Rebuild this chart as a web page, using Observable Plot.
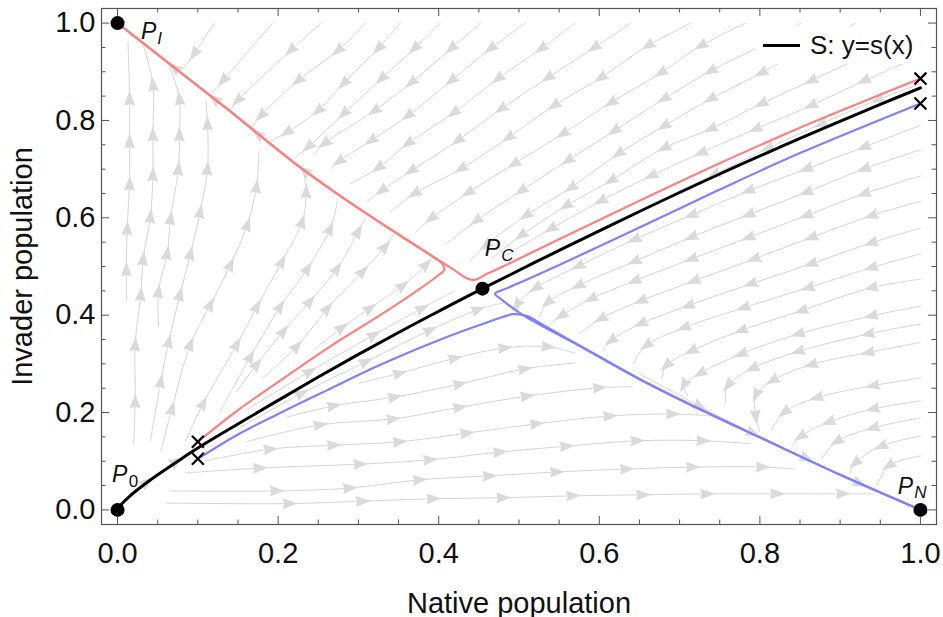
<!DOCTYPE html>
<html><head><meta charset="utf-8">
<script src="https://cdn.jsdelivr.net/npm/d3@7"></script>
<script src="https://cdn.jsdelivr.net/npm/@observablehq/plot@0.6"></script>
<style>
body{margin:0;background:#fff;}
#wrap{position:relative;width:943px;height:617px;font-family:"Liberation Sans",Arial,sans-serif;}
#legend{position:absolute;left:755px;top:26px;height:38px;background:#fff;padding:0 8px 0 8px;display:flex;align-items:center;gap:10px;font-size:26px;color:#111;}
#legend .sw{display:inline-block;width:37px;height:3px;background:#000;}
</style></head><body><div id="wrap"></div>
<script>
// ---------------- data ----------------
const majorTicks = [0, 0.2, 0.4, 0.6, 0.8, 1.0];
const minorTicks = [0.05,0.1,0.15,0.25,0.3,0.35,0.45,0.5,0.55,0.65,0.7,0.75,0.85,0.9,0.95];

// equilibria
const eqNames = ["0", "I", "C", "N"];
const eqX = [0, 0, 0.4545, 1];
const eqY = [0, 1, 0.4545, 0];

// initial conditions (crosses)
const crossX = [0.1, 0.1, 1, 1];
const crossY = [0.14, 0.105, 0.886, 0.835];

// separatrix S: y = s(x)
const sepCurve = [[0,0],[0.005,0.012],[0.015,0.028],[0.03,0.048],[0.05,0.072],[0.075,0.1],[0.1,0.127],[0.15,0.1765],[0.2,0.225],[0.25,0.273],[0.3,0.3195],[0.35,0.3645],[0.4,0.408],[0.4545,0.4545],[0.55,0.533],[0.65,0.613],[0.75,0.69],[0.85,0.763],[0.95,0.833],[1,0.867]];
// red trajectories (end at P_I)
const redTop = [[1,0.886],[0.85,0.785],[0.75,0.712],[0.65,0.635],[0.55,0.556],[0.48,0.5],[0.46,0.485],[0.446,0.473],[0.436,0.475],[0.42,0.492],[0.393,0.52],[0.33,0.587],[0.28,0.642],[0.22,0.713],[0.14,0.819],[0,1]];
const redLow = [[0.1,0.14],[0.15,0.205],[0.203,0.266],[0.265,0.336],[0.327,0.4],[0.37,0.447],[0.398,0.48],[0.407,0.494],[0.403,0.508],[0.393,0.52],[0.33,0.587],[0.28,0.642],[0.22,0.713],[0.14,0.819],[0,1]];
// blue trajectories (end at P_N)
const blueTop = [[1,0.835],[0.85,0.733],[0.75,0.658],[0.65,0.58],[0.55,0.503],[0.5,0.466],[0.48,0.452],[0.47,0.444],[0.476,0.435],[0.506,0.399],[0.58,0.333],[0.651,0.268],[0.73,0.203],[0.805,0.145],[0.9,0.072],[1,0]];
const blueLow = [[0.1,0.105],[0.15,0.155],[0.2,0.197],[0.26,0.245],[0.33,0.3],[0.41,0.355],[0.46,0.385],[0.493,0.402],[0.51,0.398],[0.53,0.38],[0.58,0.333],[0.651,0.268],[0.73,0.203],[0.805,0.145],[0.9,0.072],[1,0]];

// stream lines (flow direction = point order)
const streamsUpLeft = [
  [[0.011,0.43],[0.011,0.495],[0.012,0.579],[0.015,0.671],[0.015,0.758],[0.015,0.846],[0.013,0.96]],
  [[0.02,0.136],[0.022,0.224],[0.022,0.341],[0.029,0.444],[0.032,0.517],[0.041,0.604],[0.044,0.69],[0.044,0.772],[0.044,0.875],[0.032,0.955]],
  [[0.051,0.378],[0.051,0.45],[0.062,0.528],[0.066,0.6],[0.076,0.702],[0.077,0.772],[0.077,0.846],[0.065,0.91]],
  [[0.041,0.142],[0.054,0.265],[0.064,0.347],[0.078,0.444],[0.091,0.528],[0.103,0.614],[0.112,0.702],[0.112,0.795],[0.11,0.84]],
  [[0.054,0.121],[0.068,0.209],[0.091,0.341],[0.116,0.423],[0.141,0.505],[0.162,0.587],[0.173,0.665],[0.176,0.737]],
  [[0.085,0.142],[0.107,0.22],[0.149,0.341],[0.174,0.419],[0.205,0.511],[0.23,0.593],[0.235,0.655],[0.232,0.69]],
  [[0.128,0.203],[0.166,0.316],[0.203,0.419],[0.237,0.497],[0.265,0.579],[0.274,0.634]],
  [[0.149,0.244],[0.174,0.3],[0.207,0.368],[0.24,0.429],[0.274,0.497],[0.3,0.573],[0.308,0.598]],
  [[0.18,0.27],[0.224,0.337],[0.262,0.415],[0.306,0.491],[0.334,0.542],[0.343,0.565]],
  [[0.245,0.33],[0.28,0.375],[0.315,0.415],[0.356,0.462],[0.385,0.505],[0.39,0.518]]
];
const streamsUpRight = [
  [[0.12,1.0],[0.095,0.936],[0.078,0.9]],
  [[0.193,1.0],[0.131,0.881],[0.118,0.857]],
  [[0.253,1.0],[0.215,0.943],[0.149,0.84],[0.141,0.822]],
  [[0.309,1.0],[0.274,0.943],[0.224,0.881],[0.178,0.809],[0.166,0.785]],
  [[0.352,1.0],[0.324,0.947],[0.281,0.875],[0.249,0.819],[0.21,0.775],[0.19,0.757]],
  [[0.402,1.0],[0.369,0.947],[0.328,0.885],[0.281,0.813],[0.237,0.745],[0.22,0.722]],
  [[0.452,1.0],[0.415,0.947],[0.365,0.877],[0.319,0.819],[0.257,0.752],[0.245,0.73]],
  [[0.508,1.0],[0.464,0.947],[0.415,0.881],[0.361,0.809],[0.315,0.758],[0.275,0.715],[0.265,0.7]],
  [[0.57,1.0],[0.527,0.947],[0.473,0.885],[0.418,0.815],[0.361,0.752],[0.324,0.702],[0.29,0.67]],
  [[0.639,1.0],[0.593,0.949],[0.535,0.887],[0.477,0.823],[0.423,0.758],[0.365,0.696],[0.328,0.655],[0.31,0.632]],
  [[0.714,1.0],[0.66,0.953],[0.601,0.887],[0.543,0.83],[0.486,0.764],[0.427,0.70],[0.369,0.649],[0.34,0.612]],
  [[0.782,1.0],[0.726,0.953],[0.676,0.897],[0.614,0.836],[0.554,0.772],[0.493,0.71],[0.436,0.651],[0.39,0.598],[0.371,0.57]],
  [[0.851,1.0],[0.801,0.953],[0.738,0.901],[0.68,0.844],[0.618,0.778],[0.56,0.717],[0.502,0.655],[0.446,0.593],[0.408,0.545]],
  [[0.919,1.0],[0.863,0.953],[0.801,0.897],[0.738,0.844],[0.68,0.788],[0.623,0.731],[0.564,0.661],[0.508,0.604],[0.458,0.542],[0.438,0.51]],
  [[1.0,0.984],[0.929,0.932],[0.863,0.881],[0.801,0.834],[0.738,0.782],[0.68,0.743],[0.614,0.676],[0.558,0.624],[0.502,0.563],[0.465,0.515]],
  [[1.0,0.932],[0.929,0.881],[0.863,0.83],[0.794,0.782],[0.726,0.733],[0.664,0.686],[0.601,0.634],[0.539,0.577],[0.483,0.522]]
];
const streamsWedge = [
  [[1,0.79],[0.929,0.745],[0.857,0.70],[0.785,0.655],[0.714,0.605],[0.643,0.555],[0.573,0.5],[0.52,0.455],[0.497,0.42],[0.5,0.405]],
  [[1,0.74],[0.929,0.70],[0.857,0.652],[0.785,0.606],[0.714,0.56],[0.643,0.51],[0.573,0.46],[0.535,0.425],[0.525,0.395]],
  [[1,0.686],[0.929,0.649],[0.857,0.604],[0.785,0.559],[0.714,0.515],[0.643,0.47],[0.589,0.433],[0.552,0.398],[0.537,0.378]],
  [[1,0.634],[0.938,0.604],[0.863,0.559],[0.792,0.515],[0.717,0.47],[0.651,0.429],[0.601,0.392],[0.575,0.362]],
  [[1,0.579],[0.938,0.548],[0.863,0.505],[0.788,0.464],[0.71,0.419],[0.651,0.382],[0.614,0.347],[0.605,0.327]],
  [[1,0.526],[0.938,0.497],[0.859,0.456],[0.779,0.415],[0.705,0.374],[0.658,0.337],[0.642,0.3]],
  [[1,0.474],[0.938,0.456],[0.851,0.409],[0.776,0.368],[0.714,0.326],[0.683,0.296],[0.678,0.27]],
  [[1,0.419],[0.938,0.398],[0.847,0.361],[0.776,0.32],[0.725,0.28],[0.705,0.255],[0.71,0.235]],
  [[1,0.382],[0.934,0.361],[0.847,0.325],[0.79,0.29],[0.76,0.255],[0.757,0.22]],
  [[1,0.344],[0.934,0.323],[0.863,0.298],[0.815,0.265],[0.795,0.235],[0.795,0.19],[0.8,0.16]],
  [[1,0.271],[0.94,0.255],[0.87,0.23],[0.83,0.2],[0.815,0.165]],
  [[1,0.224],[0.94,0.207],[0.885,0.18],[0.85,0.15],[0.84,0.13]],
  [[1,0.189],[0.94,0.168],[0.895,0.14],[0.877,0.105]],
  [[1,0.152],[0.95,0.13],[0.918,0.095],[0.912,0.075]],
  [[1,0.111],[0.96,0.09],[0.946,0.05]]
];
const streamsLow = [
  [[0.06,0.014],[0.215,0.013],[0.306,0.018],[0.394,0.023],[0.481,0.025],[0.568,0.029],[0.655,0.031],[0.735,0.033],[0.822,0.033],[0.904,0.033],[0.94,0.033]],
  [[0.066,0.039],[0.199,0.039],[0.29,0.045],[0.377,0.062],[0.464,0.07],[0.548,0.078],[0.635,0.084],[0.717,0.088],[0.804,0.088],[0.844,0.084]],
  [[0.085,0.076],[0.178,0.086],[0.303,0.094],[0.39,0.103],[0.477,0.119],[0.56,0.131],[0.648,0.142],[0.73,0.142],[0.788,0.136]],
  [[0.11,0.101],[0.191,0.125],[0.27,0.133],[0.352,0.14],[0.436,0.158],[0.523,0.177],[0.614,0.193],[0.692,0.197],[0.741,0.193]],
  [[0.16,0.14],[0.253,0.175],[0.344,0.187],[0.427,0.211],[0.511,0.234],[0.601,0.251],[0.641,0.253]],
  [[0.21,0.19],[0.27,0.214],[0.346,0.232],[0.427,0.259],[0.508,0.29],[0.57,0.302]],
  [[0.3,0.26],[0.352,0.281],[0.421,0.312],[0.483,0.333],[0.537,0.335],[0.57,0.322]],
  [[0.16,0.205],[0.24,0.285],[0.32,0.36],[0.38,0.415],[0.42,0.45]],
  [[0.15,0.167],[0.23,0.24],[0.31,0.305],[0.39,0.37],[0.45,0.412],[0.48,0.425]]
];
const streamsOnCurves = [
  [[1,0.875],[0.946,0.842],[0.875,0.792],[0.809,0.742],[0.742,0.688],[0.69,0.648]],
  [[0.3,0.62],[0.232,0.698],[0.174,0.773],[0.12,0.845],[0.07,0.909],[0.03,0.961]],
  [[0.65,0.28],[0.726,0.212],[0.792,0.157],[0.859,0.105],[0.925,0.054],[0.985,0.012]],
  [[0.008,0.016],[0.037,0.058],[0.074,0.1],[0.1,0.128]]
];

// ---------------- layout ----------------
const W = 943, H = 617, mL = 101, mR = 7, mT = 8, mB = 93;
const xDomain = [-0.02, 1.02], yDomain = [-0.03, 1.03];
const plotW = W - mL - mR, plotH = H - mT - mB;
const kx = plotW / (xDomain[1] - xDomain[0]);
const ky = plotH / (yDomain[1] - yDomain[0]);

const streams = [...streamsUpLeft, ...streamsUpRight, ...streamsWedge, ...streamsLow, ...streamsOnCurves];
const streamRows = streams.flatMap((pts, id) => pts.map(([x, y]) => ({id, x, y})));
const arrowRows = [];
streams.forEach(pts => {
  for (let i = 1; i < pts.length - 1; i++) {
    const [x0, y0] = pts[i - 1], [x1, y1] = pts[i + 1];
    const angle = Math.atan2((x1 - x0) * kx, (y1 - y0) * ky) * 180 / Math.PI;
    arrowRows.push({x: pts[i][0], y: pts[i][1], angle});
  }
});
const toRows = (arr) => arr.map(([x, y]) => ({x, y}));
const eqRows = eqNames.map((n, i) => ({name: n, x: eqX[i], y: eqY[i]}));
const crossRows = crossX.map((x, i) => ({x, y: crossY[i]}));

const arrowShape = {
  draw(ctx, l, r) {
    ctx.moveTo(0, -l);
    ctx.lineTo(r, 0);
    ctx.lineTo(0, -l * 0.1);
    ctx.lineTo(-r, 0);
    ctx.closePath();
  }
};

// label placement (pixel offsets for "P" and its subscript)
const labelStyle = {
  "0": {pdx: 2, pdy: -35, sdx: 16, sdy: -28, subItalic: false},
  "I": {pdx: 31, pdy: 9, sdx: 42, sdy: 15, subItalic: true},
  "C": {pdx: 10, pdy: -40, sdx: 25, sdy: -33, subItalic: true},
  "N": {pdx: -15, pdy: -23, sdx: 0, sdy: -17, subItalic: true}
};
const labelMarks = eqRows.flatMap(d => {
  const s = labelStyle[d.name];
  return [
    Plot.text([d], {x: "x", y: "y", text: () => "P", dx: s.pdx, dy: s.pdy, fontSize: 23, fontStyle: "italic", fill: "#111", textAnchor: "middle", lineAnchor: "middle"}),
    Plot.text([d], {x: "x", y: "y", text: "name", dx: s.sdx, dy: s.sdy, fontSize: 17, fontStyle: s.subItalic ? "italic" : "normal", fill: "#111", textAnchor: "middle", lineAnchor: "middle"})
  ];
});

const frameColor = "#555";
const chart = Plot.plot({
  width: W, height: H,
  marginLeft: mL, marginRight: mR, marginTop: mT, marginBottom: mB,
  x: {domain: xDomain},
  y: {domain: yDomain},
  style: {fontFamily: '"Liberation Sans", Arial, sans-serif', fontSize: "29px", color: "#111", background: "#fff"},
  marks: [
    Plot.line(streamRows, {x: "x", y: "y", z: "id", stroke: "#d5d5d5", strokeWidth: 1, curve: "catmull-rom"}),
    Plot.vector(arrowRows, {x: "x", y: "y", rotate: "angle", length: 15, r: 5.5, shape: arrowShape, anchor: "middle", fill: "#dadada", stroke: "none"}),
    Plot.line(toRows(redTop), {x: "x", y: "y", stroke: "#ff7f7f", strokeWidth: 2.2, curve: "catmull-rom"}),
    Plot.line(toRows(redLow), {x: "x", y: "y", stroke: "#ff7f7f", strokeWidth: 2.2, curve: "catmull-rom"}),
    Plot.line(toRows(blueTop), {x: "x", y: "y", stroke: "#7f7fff", strokeWidth: 2.2, curve: "catmull-rom"}),
    Plot.line(toRows(blueLow), {x: "x", y: "y", stroke: "#7f7fff", strokeWidth: 2.2, curve: "catmull-rom"}),
    Plot.line(toRows(sepCurve), {x: "x", y: "y", stroke: "#000", strokeWidth: 3, curve: "catmull-rom"}),
    Plot.dot(crossRows, {x: "x", y: "y", symbol: "times", r: 5.5, stroke: "#000", strokeWidth: 2.2}),
    Plot.dot(eqRows, {x: "x", y: "y", r: 7, fill: "#000", stroke: "none"}),
    ...labelMarks,
    Plot.frame({stroke: frameColor, strokeWidth: 1.2}),
    Plot.tickX(majorTicks, {x: d => d, insetTop: plotH - 8, stroke: frameColor}),
    Plot.tickX(minorTicks, {x: d => d, insetTop: plotH - 4.5, stroke: frameColor}),
    Plot.tickX(majorTicks, {x: d => d, insetBottom: plotH - 8, stroke: frameColor}),
    Plot.tickX(minorTicks, {x: d => d, insetBottom: plotH - 4.5, stroke: frameColor}),
    Plot.tickY(majorTicks, {y: d => d, insetRight: plotW - 8, stroke: frameColor}),
    Plot.tickY(minorTicks, {y: d => d, insetRight: plotW - 4.5, stroke: frameColor}),
    Plot.tickY(majorTicks, {y: d => d, insetLeft: plotW - 8, stroke: frameColor}),
    Plot.tickY(minorTicks, {y: d => d, insetLeft: plotW - 4.5, stroke: frameColor}),
    Plot.axisX(majorTicks, {tickSize: 0, tickPadding: 18, tickFormat: d => d.toFixed(1), fontSize: 29, label: "Native population", labelAnchor: "center", labelOffset: 88, labelArrow: "none"}),
    Plot.axisY(majorTicks, {tickSize: 0, tickPadding: 6, tickFormat: d => d.toFixed(1), fontSize: 29, label: "Invader population", labelAnchor: "center", labelOffset: 90, labelArrow: "none"})
  ]
});
const wrap = document.getElementById("wrap");
wrap.appendChild(chart);
const legend = document.createElement("div");
legend.id = "legend";
legend.innerHTML = '<span class="sw"></span><span>S: y=s(x)</span>';
wrap.appendChild(legend);
</script>
</body></html>
